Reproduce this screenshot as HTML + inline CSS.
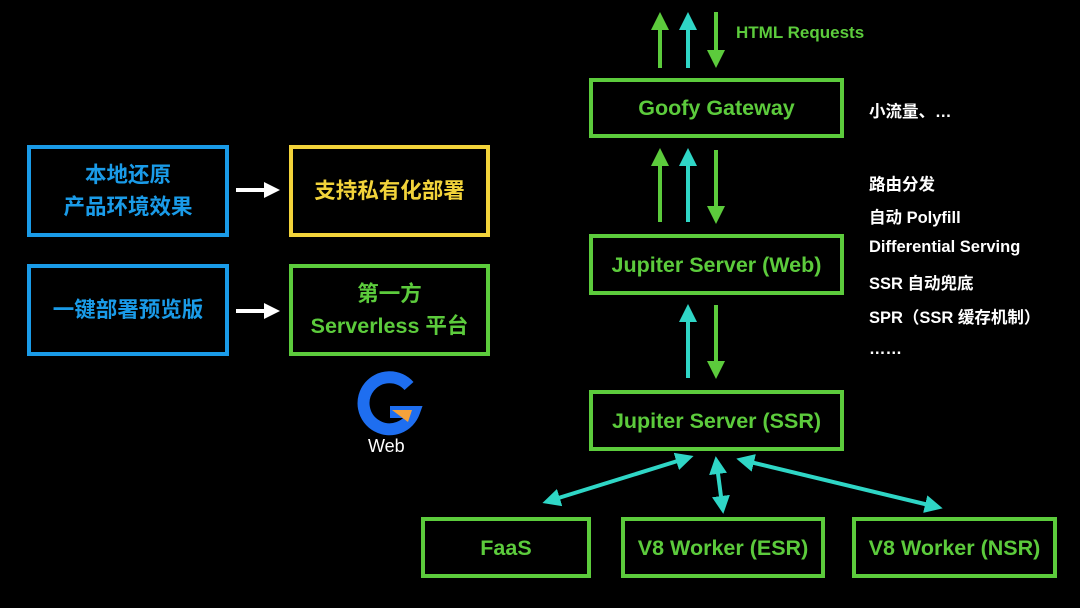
<!DOCTYPE html>
<html><head><meta charset="utf-8"><style>
body{margin:0;width:1080px;height:608px;background:#000;position:relative;overflow:hidden;font-family:"Liberation Sans","Noto Sans CJK SC",sans-serif;font-weight:bold}
.b{position:absolute;box-sizing:border-box;border:4px solid #5ccb3c;color:#5ccb3c;display:flex;align-items:center;justify-content:center;text-align:center;font-size:21.5px;line-height:32px}
.t{position:absolute;color:#fff;font-size:16.5px;left:869px;white-space:nowrap}
</style></head><body>
<div class="b" style="left:589px;top:78px;width:255px;height:60px">Goofy Gateway</div>
<div class="b" style="left:589px;top:234px;width:255px;height:61px">Jupiter Server (Web)</div>
<div class="b" style="left:589px;top:390px;width:255px;height:61px">Jupiter Server (SSR)</div>
<div class="b" style="left:421px;top:517px;width:170px;height:61px">FaaS</div>
<div class="b" style="left:621px;top:517px;width:204px;height:61px">V8 Worker (ESR)</div>
<div class="b" style="left:852px;top:517px;width:205px;height:61px">V8 Worker (NSR)</div>
<div class="b" style="left:27px;top:145px;width:202px;height:92px;border-color:#1a9be8;color:#1a9be8">本地还原<br>产品环境效果</div>
<div class="b" style="left:289px;top:145px;width:201px;height:92px;border-color:#f2d33a;color:#f2d33a">支持私有化部署</div>
<div class="b" style="left:27px;top:264px;width:202px;height:92px;border-color:#1a9be8;color:#1a9be8">一键部署预览版</div>
<div class="b" style="left:289px;top:264px;width:201px;height:92px">第一方<br>Serverless 平台</div>
<div style="position:absolute;left:736px;top:23px;color:#5ccb3c;font-size:17px">HTML Requests</div>
<div class="t" style="top:98px">小流量、…</div>
<div class="t" style="top:171px">路由分发</div>
<div class="t" style="top:204px">自动 Polyfill</div>
<div class="t" style="top:238px">Differential Serving</div>
<div class="t" style="top:270px">SSR 自动兜底</div>
<div class="t" style="top:304px">SPR（SSR 缓存机制）</div>
<div class="t" style="top:340px">……</div>
<div style="position:absolute;left:368px;top:436px;color:#fff;font-size:18px;font-weight:normal">Web</div>
<svg width="1080" height="608" style="position:absolute;left:0;top:0">
<defs>
<marker id="g" markerWidth="4.5" markerHeight="4.5" refX="2" refY="2.25" orient="auto" markerUnits="strokeWidth"><path d="M0,0L4.5,2.25L0,4.5z" fill="#5ccb3c"/></marker>
<marker id="c" markerWidth="4.5" markerHeight="4.5" refX="2" refY="2.25" orient="auto-start-reverse" markerUnits="strokeWidth"><path d="M0,0L4.5,2.25L0,4.5z" fill="#2fd6c6"/></marker>
<marker id="w" markerWidth="4" markerHeight="4" refX="2" refY="2" orient="auto" markerUnits="strokeWidth"><path d="M0,0L4,2L0,4z" fill="#fff"/></marker>
</defs>
<g stroke-width="4">
<line x1="660" y1="68" x2="660" y2="22" stroke="#5ccb3c" marker-end="url(#g)"/>
<line x1="688" y1="68" x2="688" y2="22" stroke="#2fd6c6" marker-end="url(#c)"/>
<line x1="716" y1="12" x2="716" y2="58" stroke="#5ccb3c" marker-end="url(#g)"/>
<line x1="660" y1="222" x2="660" y2="158" stroke="#5ccb3c" marker-end="url(#g)"/>
<line x1="688" y1="222" x2="688" y2="158" stroke="#2fd6c6" marker-end="url(#c)"/>
<line x1="716" y1="150" x2="716" y2="214" stroke="#5ccb3c" marker-end="url(#g)"/>
<line x1="688" y1="378" x2="688" y2="314" stroke="#2fd6c6" marker-end="url(#c)"/>
<line x1="716" y1="305" x2="716" y2="369" stroke="#5ccb3c" marker-end="url(#g)"/>
<line x1="552" y1="500" x2="684" y2="459" stroke="#2fd6c6" marker-start="url(#c)" marker-end="url(#c)"/>
<line x1="717" y1="466" x2="722" y2="504" stroke="#2fd6c6" marker-start="url(#c)" marker-end="url(#c)"/>
<line x1="746" y1="461" x2="933" y2="506" stroke="#2fd6c6" marker-start="url(#c)" marker-end="url(#c)"/>
<line x1="236" y1="190" x2="272" y2="190" stroke="#fff" marker-end="url(#w)"/>
<line x1="236" y1="311" x2="272" y2="311" stroke="#fff" marker-end="url(#w)"/>
</g>
<path d="M409,386 A26,26 0 1 0 414,412 L390,412" fill="none" stroke="#1e6ef0" stroke-width="12"/>
<path d="M392,410 L412,410 L408,422 Z" fill="#f5a23a"/>
</svg>
</body></html>
